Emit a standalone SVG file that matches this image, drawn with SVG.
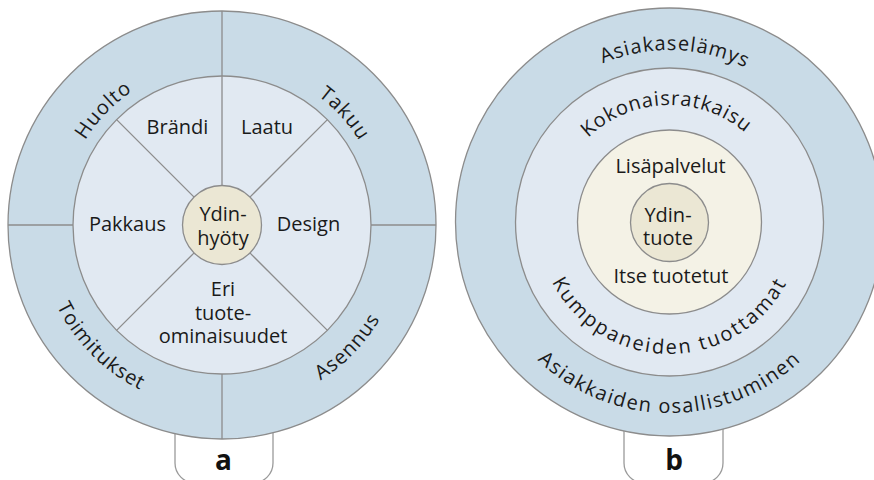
<svg xmlns="http://www.w3.org/2000/svg" xmlns:xlink="http://www.w3.org/1999/xlink" width="874" height="480" viewBox="0 0 874 480">
  <style>
    .ring-outer { fill: #c9dbe7; stroke: #8c8c8c; stroke-width: 1.3; }
    .ring-mid { fill: #e1e9f2; stroke: #8c8c8c; stroke-width: 1.3; }
    .ring-cream { fill: #f4f2e6; stroke: #8c8c8c; stroke-width: 1.3; }
    .core { fill: #ebe7d4; stroke: #8c8c8c; stroke-width: 1.3; }
    .divider { stroke: #8c8c8c; stroke-width: 1.3; fill: none; }
    .tab { fill: #ffffff; stroke: #9a9a9a; stroke-width: 1.3; }
    .lbl { font-family: "Open Sans", "Noto Sans", sans-serif; font-size: 20px; fill: #1a1a1a; text-anchor: middle; }
    .arc { font-family: "Open Sans", "Noto Sans", sans-serif; font-size: 20px; fill: #1a1a1a; letter-spacing: 1px; }
    .tag { font-family: "Open Sans", "Noto Sans", sans-serif; font-size: 28px; font-weight: bold; fill: #111111; text-anchor: middle; }
  </style>
  <defs>
    <!-- baseline arcs for curved ring labels -->
    <path id="a-top" d="M 61,225 A 161 161 0 0 1 383,225"/>
    <path id="a-bottom" d="M 38,225 A 184 184 0 0 0 406,225"/>
    <path id="b-outer-top" d="M 497.5,222 A 172 172 0 0 1 841.5,222"/>
    <path id="b-mid-top" d="M 552.5,222 A 117 117 0 0 1 786.5,222"/>
    <path id="b-mid-bottom" d="M 537.5,222 A 132 132 0 0 0 801.5,222"/>
    <path id="b-outer-bottom" d="M 478.5,222 A 191 191 0 0 0 860.5,222"/>
  </defs>

  <!-- label tabs sit behind the wheels -->
  <g id="tab-a">
    <rect class="tab" x="175" y="380" width="98" height="103" rx="20"/>
    <text class="tag" x="223.5" y="470">a</text>
  </g>
  <g id="tab-b">
    <rect class="tab" x="624" y="380" width="99" height="103" rx="20"/>
    <text class="tag" x="674" y="470">b</text>
  </g>

  <!-- diagram a: product wheel -->
  <g id="a-outer">
    <circle class="ring-outer" cx="222" cy="225" r="214"/>
  </g>
  <g id="a-inner">
    <circle class="ring-mid" cx="222" cy="225" r="149"/>
  </g>
  <g id="a-core">
    <circle class="core" cx="222" cy="225" r="39.5"/>
    <text class="lbl"><tspan x="223" y="220.5">Ydin-</tspan><tspan x="223" dy="24">hyöty</tspan></text>
  </g>

  <g id="connectors">
    <!-- outer ring quadrant dividers -->
    <line class="divider" x1="222" y1="11" x2="222" y2="76"/>
    <line class="divider" x1="222" y1="374" x2="222" y2="439"/>
    <line class="divider" x1="8" y1="225" x2="73" y2="225"/>
    <line class="divider" x1="371" y1="225" x2="436" y2="225"/>
    <!-- inner spokes -->
    <line class="divider" x1="222" y1="185.5" x2="222" y2="76"/>
    <line class="divider" x1="194.1" y1="197.1" x2="116.6" y2="119.6"/>
    <line class="divider" x1="249.9" y1="197.1" x2="327.4" y2="119.6"/>
    <line class="divider" x1="194.1" y1="252.9" x2="116.6" y2="330.4"/>
    <line class="divider" x1="249.9" y1="252.9" x2="327.4" y2="330.4"/>
  </g>

  <g id="a-brandi"><text class="lbl" x="177.5" y="134">Brändi</text></g>
  <g id="a-laatu"><text class="lbl" x="267" y="134">Laatu</text></g>
  <g id="a-pakkaus"><text class="lbl" x="127.5" y="231">Pakkaus</text></g>
  <g id="a-design"><text class="lbl" x="308.5" y="231">Design</text></g>
  <g id="a-ominaisuudet">
    <text class="lbl"><tspan x="223" y="296">Eri</tspan><tspan x="223" dy="24">tuote-</tspan><tspan x="223" dy="23">ominaisuudet</tspan></text>
  </g>
  <g id="a-huolto"><text class="arc"><textPath xlink:href="#a-top" href="#a-top" startOffset="24.5%" text-anchor="middle">Huolto</textPath></text></g>
  <g id="a-takuu"><text class="arc"><textPath xlink:href="#a-top" href="#a-top" startOffset="76.5%" text-anchor="middle">Takuu</textPath></text></g>
  <g id="a-toimitukset"><text class="arc"><textPath xlink:href="#a-bottom" href="#a-bottom" startOffset="25%" text-anchor="middle">Toimitukset</textPath></text></g>
  <g id="a-asennus"><text class="arc"><textPath xlink:href="#a-bottom" href="#a-bottom" startOffset="75.5%" text-anchor="middle">Asennus</textPath></text></g>

  <!-- diagram b: concentric layers -->
  <g id="b-asiakaselamys">
    <circle class="ring-outer" cx="669.5" cy="222" r="214"/>
    <text class="arc"><textPath xlink:href="#b-outer-top" href="#b-outer-top" startOffset="51%" text-anchor="middle">Asiakaselämys</textPath></text>
    <text class="arc" style="letter-spacing:1.5px"><textPath xlink:href="#b-outer-bottom" href="#b-outer-bottom" startOffset="50%" text-anchor="middle">Asiakkaiden osallistuminen</textPath></text>
  </g>
  <g id="b-kokonaisratkaisu">
    <circle class="ring-mid" cx="669.5" cy="222" r="154"/>
    <text class="arc" style="letter-spacing:0.8px"><textPath xlink:href="#b-mid-top" href="#b-mid-top" startOffset="49%" text-anchor="middle">Kokonaisratkaisu</textPath></text>
    <text class="arc" style="letter-spacing:2.2px"><textPath xlink:href="#b-mid-bottom" href="#b-mid-bottom" startOffset="50%" text-anchor="middle">Kumppaneiden tuottamat</textPath></text>
  </g>
  <g id="b-lisapalvelut">
    <circle class="ring-cream" cx="669.5" cy="222" r="92"/>
    <text class="lbl" x="670.5" y="173">Lisäpalvelut</text>
    <text class="lbl" x="671" y="283">Itse tuotetut</text>
  </g>
  <g id="b-core">
    <circle class="core" cx="669.5" cy="222.5" r="39"/>
    <text class="lbl"><tspan x="668" y="221.5">Ydin-</tspan><tspan x="668" dy="23.5">tuote</tspan></text>
  </g>
</svg>
